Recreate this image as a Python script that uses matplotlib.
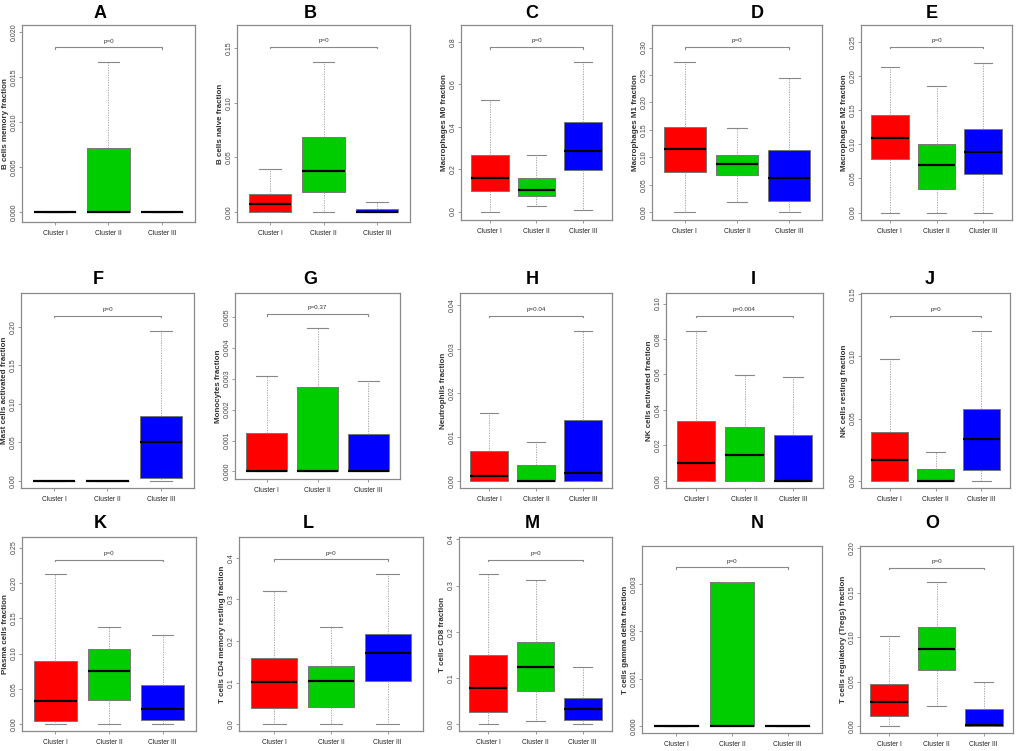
import matplotlib
matplotlib.use("Agg")
import matplotlib.pyplot as plt
from matplotlib.ticker import FixedLocator, FixedFormatter

plt.rcParams["font.family"] = ["Liberation Sans", "DejaVu Sans"]

# panel labels, y-axis labels and p-values
letters = list("ABCDEFGHIJKLMNO")
ylabels = [
    "B cells memory fraction",
    "B cells naive fraction",
    "Macrophages M0 fraction",
    "Macrophages M1 fraction",
    "Macrophages M2 fraction",
    "Mast cells activated fraction",
    "Monocytes fraction",
    "Neutrophils fraction",
    "NK cells activated fraction",
    "NK cells resting fraction",
    "Plasma cells fraction",
    "T cells CD4 memory resting fraction",
    "T cells CD8 fraction",
    "T cells gamma delta fraction",
    "T cells regulatory (Tregs) fraction",
]
pvalues = ["p=0", "p=0", "p=0", "p=0", "p=0",
           "p=0", "p=0.37", "p=0.04", "p=0.004", "p=0",
           "p=0", "p=0", "p=0", "p=0", "p=0"]
clusters = ["Cluster I", "Cluster II", "Cluster III"]

# box statistics per panel, one value per cluster (I, II, III)
whis_lo = [
    [0, 0, 0], [0, 0, 0], [0, 0.026, 0.0075], [0, 0.019, 0.001], [0, 0, 0],
    [0, 0, 0], [0, 0, 0], [0, 0, 0], [0, 0, 0], [0, 0, 0],
    [0, 0, 0], [0, 0, 0], [0, 0.0072, 0.001], [0, 0, 0], [0, 0.0225, 0],
]
q1 = [
    [0, 0, 0], [0, 0.0183, 0], [0.096, 0.072, 0.194], [0.073, 0.068, 0.020], [0.078, 0.035, 0.056],
    [0, 0, 0.0035], [0, 0, 0], [0, 0, 0], [0, 0, 0], [0, 0, 0.0086],
    [0.0052, 0.034, 0.0057], [0.040, 0.0416, 0.105], [0.026, 0.072, 0.010], [0, 0, 0], [0.0109, 0.0624, 0],
]
medians = [
    [0, 0, 0], [0.0073, 0.0375, 0.0005], [0.159, 0.100, 0.287], [0.115, 0.0886, 0.063], [0.110, 0.070, 0.089],
    [0, 0, 0.050], [0, 0, 0], [0.00107, 0, 0.00166], [0.0098, 0.0147, 0], [0.0163, 0, 0.0338],
    [0.0326, 0.075, 0.0217], [0.1026, 0.104, 0.171], [0.0786, 0.123, 0.033], [0, 0, 0], [0.027, 0.0871, 0.0016],
]
q3 = [
    [0, 0.0071, 0], [0.0165, 0.0686, 0.003], [0.268, 0.159, 0.420], [0.155, 0.105, 0.114], [0.143, 0.100, 0.123],
    [0, 0, 0.0837], [0.00125, 0.00274, 0.00121], [0.00666, 0.00364, 0.0137], [0.034, 0.0301, 0.0256], [0.0394, 0.0094, 0.0573],
    [0.090, 0.107, 0.0552], [0.1587, 0.140, 0.217], [0.149, 0.179, 0.0577], [0, 0.00305, 0], [0.0477, 0.111, 0.0196],
]
whis_hi = [
    [0, 0.0167, 0], [0.039, 0.137, 0.009], [0.525, 0.266, 0.704], [0.274, 0.154, 0.244], [0.214, 0.186, 0.220],
    [0, 0, 0.195], [0.0031, 0.00463, 0.00294], [0.0153, 0.0088, 0.0341], [0.0848, 0.0599, 0.0588], [0.0978, 0.0228, 0.1206],
    [0.212, 0.138, 0.126], [0.320, 0.233, 0.361], [0.325, 0.311, 0.123], [0, 0.00305, 0], [0.101, 0.162, 0.049],
]

# axis ticks: (max tick, step, decimals)
yticks = [
    (0.020, 0.005, 3), (0.15, 0.05, 2), (0.8, 0.2, 1), (0.30, 0.05, 2), (0.25, 0.05, 2),
    (0.20, 0.05, 2), (0.005, 0.001, 3), (0.04, 0.01, 2), (0.10, 0.02, 2), (0.15, 0.05, 2),
    (0.25, 0.05, 2), (0.4, 0.1, 1), (0.4, 0.1, 1), (0.003, 0.001, 3), (0.20, 0.05, 2),
]

# layout: y limits, bracket height, axes box in pixels (x0, x1, y_top, y_bottom), title centre
ylims = [
    (-0.0011, 0.0208), (-0.009, 0.171), (-0.04, 0.88), (-0.014, 0.341), (-0.011, 0.275),
    (-0.0095, 0.244), (-0.000245, 0.00577), (-0.00166, 0.0427), (-0.0041, 0.106), (-0.0059, 0.151),
    (-0.0095, 0.265), (-0.016, 0.450), (-0.0145, 0.405), (-0.000148, 0.0038), (-0.0079, 0.2024),
]
brackets = [0.0183, 0.151, 0.775, 0.301, 0.243,
            0.2145, 0.00509, 0.0375, 0.0932, 0.1327,
            0.233, 0.396, 0.356, 0.00335, 0.178]
boxes_px = [
    (22, 195, 25, 222), (237, 410, 25, 222), (461, 612, 25, 220), (652, 822, 25, 220), (861, 1012, 25, 220),
    (21, 194, 293, 488), (235, 400, 293, 479), (460, 612, 293, 488), (666, 823, 293, 488), (861, 1010, 293, 488),
    (22, 196, 537, 731), (239, 423, 537, 731), (459, 612, 537, 731), (642, 822, 546, 733), (860, 1013, 546, 733),
]
titles_px = [
    (100, 13), (310, 13), (532, 13), (757, 13), (932, 13),
    (98, 279), (310, 279), (532, 279), (753, 279), (930, 279),
    (100, 524), (308, 524), (532, 524), (757, 524), (932, 524),
]

colors = ["#FF0000", "#00CD00", "#0000FF"]
W, H = 1019, 751
frame_col = "#8a8a8a"

fig = plt.figure(figsize=(W / 100, H / 100), dpi=100)

for i in range(15):
    x0, x1, yt, yb = boxes_px[i]
    ax = fig.add_axes([x0 / W, 1 - yb / H, (x1 - x0) / W, (yb - yt) / H])

    stats = []
    for j in range(3):
        stats.append(dict(whislo=whis_lo[i][j], q1=q1[i][j], med=medians[i][j],
                          q3=q3[i][j], whishi=whis_hi[i][j]))
    b = ax.bxp(stats, positions=[1, 2, 3], widths=0.8, capwidths=0.4,
               showfliers=False, patch_artist=True,
               boxprops=dict(edgecolor="#777777", linewidth=0.7),
               whiskerprops=dict(color="#999999", linewidth=0.6, linestyle=(0, (1.5, 1.5))),
               capprops=dict(color="#888888", linewidth=0.8),
               medianprops=dict(color="black", linewidth=1.6))
    for patch, c in zip(b["boxes"], colors):
        patch.set_facecolor(c)

    lo, hi = ylims[i]
    ax.set_xlim(0.38, 3.62)
    ax.set_ylim(lo, hi)

    # significance bracket
    rng = hi - lo
    yb_ = brackets[i]
    ax.plot([1, 1, 3, 3], [yb_ - 0.008 * rng, yb_, yb_, yb_ - 0.008 * rng],
            color="#888888", linewidth=0.8)
    ax.text(2, yb_ + 0.02 * rng, pvalues[i], ha="center", va="bottom",
            fontsize=4.5, color="#333333")

    top, step, dec = yticks[i]
    n = int(round(top / step))
    ticks = [k * step for k in range(n + 1)]
    ax.yaxis.set_major_locator(FixedLocator(ticks))
    ax.yaxis.set_major_formatter(FixedFormatter([f"{t:.{dec}f}" for t in ticks]))
    ax.set_xticks([1, 2, 3])
    ax.set_xticklabels(clusters, fontsize=4.8, color="#222222")
    for lab in ax.get_yticklabels():
        lab.set_rotation(90)
        lab.set_va("center")
        lab.set_fontsize(5)
        lab.set_color("#444444")
    ax.tick_params(axis="y", length=2, width=0.6, color=frame_col, pad=1)
    ax.tick_params(axis="x", length=2.5, width=0.6, color=frame_col, pad=3)
    ax.set_ylabel(ylabels[i], fontsize=5.8, fontweight="bold", labelpad=1.5, color="#333333")
    for s in ax.spines.values():
        s.set_color(frame_col)
        s.set_linewidth(0.9)

    tx, ty = titles_px[i]
    fig.text(tx / W, 1 - ty / H, letters[i], ha="center", va="center",
             fontsize=13, fontweight="bold")

fig.savefig("out.png", dpi=100)
